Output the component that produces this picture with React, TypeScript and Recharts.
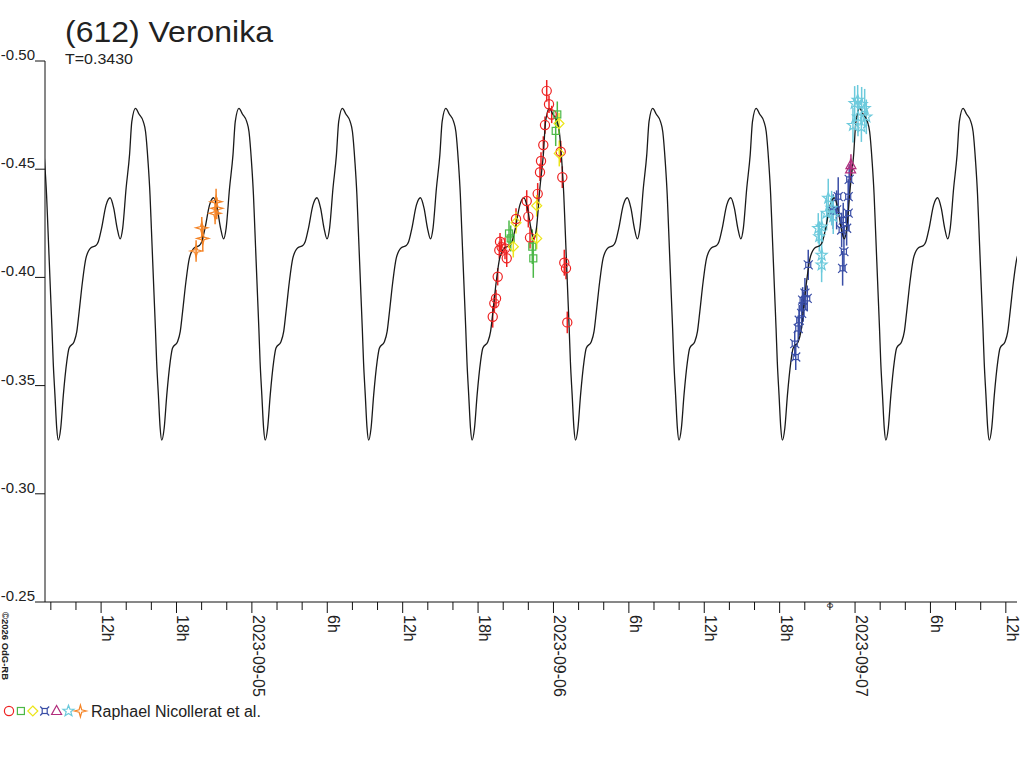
import React from "react";
import { ComposedChart, Line, Scatter, XAxis, YAxis, ErrorBar } from "recharts";

// time axis: days from 2023-09-05 00:00 UT; values are relative magnitudes
const PERIOD = 0.343; // T=0.3430 d
const EPOCH_MAX = -0.0428; // a maximum of the model

// one rotation of the model, phase counted from a maximum
const modelPhase = [
  0, 0.033, 0.075, 0.097, 0.121, 0.14, 0.153, 0.166, 0.179, 0.192, 0.204, 0.221,
  0.238, 0.253, 0.277, 0.302, 0.335, 0.357, 0.406, 0.432, 0.455, 0.487, 0.52,
  0.569, 0.617, 0.64, 0.672, 0.715, 0.754, 0.789, 0.822, 0.851, 0.876, 0.909,
  0.942, 0.964,
];
const modelMag = [
  -0.4781, -0.4755, -0.472, -0.4673, -0.4534, -0.4381, -0.4228, -0.4073,
  -0.3919, -0.3766, -0.361, -0.3456, -0.3304, -0.3248, -0.3304, -0.3456,
  -0.361, -0.3673, -0.3703, -0.3749, -0.3842, -0.398, -0.4088, -0.4137,
  -0.4147, -0.4165, -0.4228, -0.4334, -0.4368, -0.432, -0.4228, -0.4178,
  -0.4228, -0.4413, -0.4566, -0.472,
];
const modelCycles = [-3, -2, -1, 0, 1, 2, 3, 4, 5, 6, 7];

// observations: [t, mag, err]
const circlePts = [
  [0.9776, -0.4862, 0.005], [0.9852, -0.48, 0.004], [0.9941, -0.4753, 0.004],
  [0.9719, -0.4704, 0.004], [0.9663, -0.4612, 0.004], [0.9587, -0.4538, 0.004],
  [0.9553, -0.4486, 0.004], [0.9477, -0.4386, 0.005], [0.9113, -0.4353, 0.005],
  [0.9166, -0.4281, 0.005], [0.8758, -0.427, 0.005], [0.9222, -0.4184, 0.005],
  [0.8228, -0.4165, 0.004], [0.8204, -0.4126, 0.004], [0.8393, -0.4134, 0.005],
  [0.845, -0.4088, 0.004], [0.8151, -0.4003, 0.004], [0.8095, -0.3903, 0.004],
  [0.8039, -0.388, 0.004], [0.7986, -0.3818, 0.005], [1.024, -0.4581, 0.005],
  [1.0293, -0.4463, 0.005], [1.0359, -0.4068, 0.006], [1.0415, -0.4042, 0.005],
  [1.0458, -0.3792, 0.005], [0.828, -0.414, 0.004],
];
const squarePts = [
  [1.0074, -0.4677, 0.007], [1.0127, -0.4753, 0.006], [0.8526, -0.4203, 0.006],
  [0.8582, -0.418, 0.006], [0.9298, -0.4142, 0.008], [0.9331, -0.4088, 0.009],
];
const diamondPts = [
  [1.0183, -0.4711, 0.005], [1.0193, -0.4573, 0.006], [0.9444, -0.4331, 0.005],
  [0.8758, -0.4253, 0.005], [0.8668, -0.4142, 0.005], [0.9444, -0.418, 0.005],
];
const crossPts = [
  [1.8033, -0.3632, 0.006], [1.8, -0.3694, 0.006], [1.8116, -0.3764, 0.006],
  [1.8149, -0.3802, 0.007], [1.8229, -0.3834, 0.007], [1.8282, -0.3865, 0.007],
  [1.8262, -0.3895, 0.006], [1.8414, -0.3903, 0.006], [1.8338, -0.3927, 0.007],
  [1.8448, -0.4058, 0.007], [1.9588, -0.4042, 0.008], [1.9631, -0.4119, 0.009],
  [1.9555, -0.4219, 0.008], [1.9721, -0.4227, 0.008], [1.9608, -0.4265, 0.008],
  [1.9773, -0.4297, 0.008], [1.9773, -0.4373, 0.008], [1.9806, -0.4453, 0.007],
  [1.9442, -0.4373, 0.009], [1.9389, -0.4312, 0.009], [1.9276, -0.4304, 0.008],
];
const trianglePts = [
  [1.9853, -0.4499, 0.005], [1.9864, -0.4519, 0.005],
];
const starPts = [
  [1.8892, -0.4103, 0.008], [1.8892, -0.4058, 0.008], [1.878, -0.4227, 0.007],
  [1.8813, -0.4189, 0.007], [1.8892, -0.4234, 0.007], [1.9058, -0.4297, 0.008],
  [1.9111, -0.4366, 0.009], [1.9224, -0.432, 0.008], [1.9277, -0.4281, 0.008],
  [1.9987, -0.4804, 0.008], [1.9931, -0.4703, 0.008], [2.0097, -0.4742, 0.009],
  [2.0319, -0.4781, 0.009], [2.021, -0.4696, 0.007], [2.0374, -0.4742, 0.008],
  [2.0087, -0.4819, 0.007], [2.0219, -0.48, 0.008],
];
const sparkPts = [
  [-0.185, -0.4122, 0.005], [-0.1628, -0.418, 0.006], [-0.1661, -0.4229, 0.005],
  [-0.1187, -0.435, 0.006], [-0.1164, -0.4319, 0.005], [-0.122, -0.4296, 0.005],
];

const tickHours = [
  -16, -14, -12, -10, -8, -6, -4, -2, 0, 2, 4, 6, 8, 10, 12, 14, 16, 18, 20, 22,
  24, 26, 28, 30, 32, 34, 36, 38, 40, 42, 44, 46, 48, 50, 52, 54, 56, 58, 60,
];
const dayHours = [0, 24, 48];
const dayNames = ["2023-09-05", "2023-09-06", "2023-09-07"];
const magTicks = [-0.5, -0.45, -0.4, -0.35, -0.3, -0.25];

const FONT = "'Liberation Sans', Arial, sans-serif";

const modelData = modelCycles.flatMap((k) =>
  modelPhase.map((p, i) => ({ t: EPOCH_MAX + (k + p) * PERIOD, mag: modelMag[i] }))
);
const rows = (pts: number[][]) => pts.map(([t, mag, err]) => ({ t, mag, err }));

const series = [
  { kind: "circle", color: "#ee2222", pts: circlePts },
  { kind: "square", color: "#4cb848", pts: squarePts },
  { kind: "diamond", color: "#ece51a", pts: diamondPts },
  { kind: "cross", color: "#3a4ea6", pts: crossPts },
  { kind: "triangle", color: "#b22d7c", pts: trianglePts },
  { kind: "star", color: "#6ccadc", pts: starPts },
  { kind: "spark", color: "#f58426", pts: sparkPts },
];

function starPoints(x: number, y: number, n: number, ro: number, ri: number) {
  const out: string[] = [];
  for (let i = 0; i < n * 2; i++) {
    const r = i % 2 === 0 ? ro : ri;
    const a = -Math.PI / 2 + (i * Math.PI) / n;
    out.push(`${x + r * Math.cos(a)},${y + r * Math.sin(a)}`);
  }
  return out.join(" ");
}

function Marker({ kind, x, y, c }: { kind: string; x: number; y: number; c: string }) {
  const s = { fill: "none", stroke: c, strokeWidth: 1.2 };
  switch (kind) {
    case "circle":
      return <circle cx={x} cy={y} r={4.6} {...s} />;
    case "square":
      return <rect x={x - 3.5} y={y - 3.5} width={7} height={7} {...s} />;
    case "diamond":
      return <polygon points={`${x},${y - 5} ${x + 5},${y} ${x},${y + 5} ${x - 5},${y}`} {...s} />;
    case "cross":
      return (
        <g {...s}>
          <rect x={x - 2.5} y={y - 2.5} width={5} height={5} />
          <path
            d={`M${x - 4.5} ${y - 4.5}L${x - 2.5} ${y - 2.5}M${x + 4.5} ${y - 4.5}L${x + 2.5} ${y - 2.5}M${x - 4.5} ${y + 4.5}L${x - 2.5} ${y + 2.5}M${x + 4.5} ${y + 4.5}L${x + 2.5} ${y + 2.5}`}
          />
        </g>
      );
    case "triangle":
      return <polygon points={`${x},${y - 5.5} ${x + 5},${y + 3.5} ${x - 5},${y + 3.5}`} {...s} />;
    case "star":
      return <polygon points={starPoints(x, y, 5, 5.8, 2.4)} {...s} />;
    default:
      return <polygon points={starPoints(x, y, 4, 6, 1.8)} {...s} />;
  }
}

function XTick({ x, y, payload }: any) {
  const h = Math.round(payload.value * 24);
  const major = h % 6 === 0;
  const hod = ((h % 24) + 24) % 24;
  const label = !major ? null : hod === 0 ? dayNames[dayHours.indexOf(h)] : `${hod}h`;
  return (
    <g>
      <line x1={x} y1={y} x2={x} y2={y + (major ? 11 : 8)} stroke="#111" />
      {label && (
        <text
          transform={`translate(${x + 1},${y + 13}) rotate(90)`}
          fontSize={16}
          fontFamily={FONT}
          fill="#222"
        >
          {label}
        </text>
      )}
    </g>
  );
}

function YTick({ x, y, payload }: any) {
  return (
    <g>
      <line x1={x - 10} y1={y} x2={x} y2={y} stroke="#111" />
      <text x={x - 10} y={y - 1} textAnchor="end" fontSize={15} fontFamily={FONT} fill="#222">
        {payload.value.toFixed(2)}
      </text>
    </g>
  );
}

export default function App() {
  return (
    <div style={{ position: "absolute", left: 0, top: 0, width: 1024, height: 768, background: "#fff", fontFamily: FONT }}>
      <ComposedChart width={1024} height={768} margin={{ top: 61, right: 7, bottom: 0, left: 0 }}>
        <XAxis
          type="number"
          dataKey="t"
          domain={[-0.686, 2.537]}
          allowDataOverflow
          ticks={tickHours.map((h) => h / 24)}
          interval={0}
          tickLine={false}
          tickSize={0}
          tickMargin={0}
          height={166}
          axisLine={{ stroke: "#111" }}
          tick={<XTick />}
        />
        <YAxis
          type="number"
          domain={[-0.5, -0.25]}
          reversed
          allowDataOverflow
          ticks={magTicks}
          interval={0}
          tickLine={false}
          tickSize={0}
          tickMargin={0}
          width={45}
          axisLine={{ stroke: "#111" }}
          tick={<YTick />}
        />
        {series.map((s) => (
          <Scatter
            key={s.kind}
            data={rows(s.pts)}
            dataKey="mag"
            isAnimationActive={false}
            shape={(p: any) => <Marker kind={s.kind} x={p.cx} y={p.cy} c={s.color} />}
          >
            <ErrorBar dataKey="err" direction="y" width={0} stroke={s.color} strokeWidth={1.5} />
          </Scatter>
        ))}
        <Line
          data={modelData}
          dataKey="mag"
          type="monotone"
          dot={false}
          stroke="#1a1a1a"
          strokeWidth={1.3}
          isAnimationActive={false}
        />
      </ComposedChart>
      <svg width={1024} height={768} style={{ position: "absolute", left: 0, top: 0, pointerEvents: "none" }}>
        <text x={65} y={42} fontSize={29} fontFamily={FONT} fill="#222" textLength={208} lengthAdjust="spacingAndGlyphs">
          (612) Veronika
        </text>
        <text x={65} y={64} fontSize={15} fontFamily={FONT} fill="#222" textLength={68} lengthAdjust="spacingAndGlyphs">
          T=0.3430
        </text>
        <text transform="translate(2,612) rotate(90)" fontSize={9} fontFamily={FONT} fontWeight="bold" fill="#222" textLength={68} lengthAdjust="spacingAndGlyphs">
          ©2026 OdG-RB
        </text>
        <text transform="translate(827,603) rotate(90)" fontSize={9} fontFamily={FONT} fill="#222">
          0
        </text>
        {series.map((s, i) => (
          <Marker key={s.kind} kind={s.kind} x={9 + i * 11.9} y={711} c={s.color} />
        ))}
        <text x={91} y={717} fontSize={16} fontFamily={FONT} fill="#222">
          Raphael Nicollerat et al.
        </text>
      </svg>
    </div>
  );
}
